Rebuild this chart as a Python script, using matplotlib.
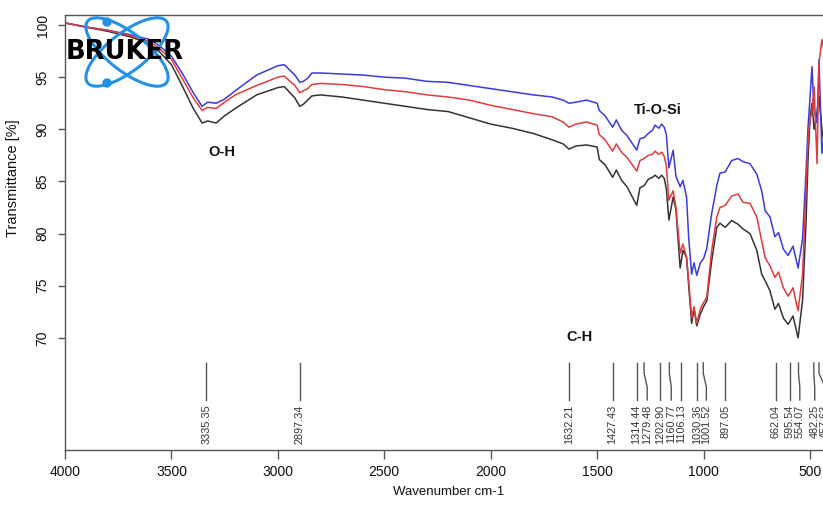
import matplotlib
matplotlib.use('Agg')
import matplotlib.pyplot as plt
from matplotlib.patches import Ellipse, Circle

plt.rcParams['font.family'] = ['Liberation Sans', 'DejaVu Sans']

# ---------------- data ----------------
wn = [4000, 3900, 3800, 3700, 3600, 3550, 3500, 3450, 3400, 3356,
      3330, 3290, 3250, 3200, 3100, 3000, 2970, 2920, 2897, 2880,
      2860, 2840, 2800, 2700, 2600, 2500, 2400, 2300, 2200, 2100,
      2000, 1900, 1800, 1712, 1660, 1632, 1600, 1550, 1500, 1490,
      1463, 1427, 1410, 1385, 1360, 1314, 1299, 1279, 1260, 1240,
      1228, 1210, 1197, 1185, 1175, 1163, 1143, 1130, 1110, 1097,
      1080, 1070, 1056, 1045, 1032, 1015, 1000, 985, 962, 938,
      923, 899, 868, 838, 815, 782, 750, 727, 711, 688,
      665, 648, 625, 603, 580, 556, 535, 519, 509, 500,
      491, 481, 467, 458, 444, 430, 410]

blue = [100.2, 99.8, 99.5, 99.1, 98.6, 97.9, 97.0, 95.4, 93.6, 92.2,
        92.6, 92.5, 92.9, 93.7, 95.2, 96.1, 96.2, 95.2, 94.5, 94.6,
        94.9, 95.4, 95.4, 95.3, 95.2, 95.0, 94.9, 94.6, 94.5, 94.2,
        93.9, 93.6, 93.3, 93.1, 92.8, 92.5, 92.6, 92.8, 92.5, 91.8,
        91.3, 90.2, 90.9, 89.9, 89.4, 88.0, 89.1, 89.2, 89.6, 89.9,
        90.4, 90.1, 90.5, 90.2, 89.5, 86.3, 88.0, 85.5, 84.5, 85.1,
        83.5, 79.6, 76.1, 77.2, 76.0, 77.2, 77.6, 78.6, 81.9, 84.6,
        85.8, 85.9, 87.0, 87.2, 86.9, 86.7, 85.7, 84.1, 82.2, 81.6,
        79.7, 80.1, 78.5, 77.9, 78.8, 76.7, 79.5, 85.8, 90.3, 93.0,
        96.0, 91.9, 90.6, 96.7, 87.7, 90.0, 89.0]

red = [100.2, 99.8, 99.5, 99.0, 98.4, 97.6, 96.7, 94.9, 93.1, 91.8,
       92.1, 92.0, 92.6, 93.3, 94.2, 95.0, 95.1, 94.2, 93.5, 93.7,
       93.9, 94.3, 94.4, 94.3, 94.1, 93.8, 93.6, 93.3, 93.1, 92.8,
       92.3, 91.9, 91.5, 91.2, 90.7, 90.2, 90.5, 90.7, 90.4, 89.5,
       89.0, 87.9, 88.6, 87.8, 87.3, 86.0, 87.0, 87.2, 87.5, 87.6,
       87.9, 87.6, 87.8, 87.4, 86.5, 83.2, 84.1, 82.5, 78.1, 79.0,
       77.7, 75.5, 71.9, 73.0, 71.4, 72.8, 73.4, 73.9, 78.4, 81.6,
       82.5, 82.7, 83.6, 83.8, 83.0, 82.9, 81.6, 79.3, 77.7, 76.9,
       75.8, 76.3, 74.8, 74.0, 74.8, 72.6, 76.1, 84.1, 89.0, 91.0,
       91.6, 94.1, 86.7, 96.3, 98.6, 97.0, 95.0]

black = [100.2, 99.8, 99.4, 98.9, 98.2, 97.3, 96.2, 94.2, 92.1, 90.6,
         90.8, 90.6, 91.3, 92.0, 93.3, 94.0, 94.1, 93.0, 92.2, 92.4,
         92.8, 93.2, 93.3, 93.1, 92.8, 92.5, 92.2, 91.9, 91.7, 91.1,
         90.5, 90.1, 89.6, 89.0, 88.6, 88.1, 88.4, 88.5, 88.3, 87.1,
         86.6, 85.4, 86.1, 85.1, 84.5, 82.7, 84.4, 84.6, 85.2, 85.4,
         85.6, 85.3, 85.6, 85.3, 84.3, 81.3, 83.5, 82.3, 76.7, 78.4,
         77.7, 75.0, 71.4, 72.8, 71.15, 72.3, 73.0, 73.55, 77.4, 80.6,
         81.0, 80.6, 81.25, 80.9, 80.45, 80.0, 78.4, 76.1, 75.5, 74.5,
         72.75, 73.3, 71.9, 71.3, 72.1, 70.0, 73.6, 80.9, 87.3, 91.0,
         92.5, 90.0, 91.6, 93.2, 90.0, 88.0, 87.0]

peaks = [3335.35, 2897.34, 1632.21, 1427.43, 1314.44, 1279.48, 1202.90,
         1160.77, 1106.13, 1030.36, 1001.52, 897.05, 662.04, 595.54,
         554.07, 482.25, 457.63]
# where each peak label is placed (wavenumber position of the label)
label_pos = [3335.35, 2897.34, 1632.21, 1427.43, 1314.44, 1265, 1202.90,
             1152, 1106.13, 1030.36, 987, 897.05, 662.04, 595.54,
             548, 478, 430]

xticks = [4000, 3500, 3000, 2500, 2000, 1500, 1000, 500]
yticks = [70, 75, 80, 85, 90, 95, 100]

annotations = [("O-H", 3262, 87.8), ("Ti-O-Si", 1214, 91.85), ("C-H", 1583, 70.1)]

# ---------------- figure ----------------
W, H = 823, 505
fig = plt.figure(figsize=(W / 100, H / 100), dpi=100)
ax = fig.add_axes([65 / W, 55 / H, 766.3 / W, 435 / H])

ax.plot(wn, black, color='#333333', lw=1.1, zorder=3)
ax.plot(wn, blue, color='#3a3ae0', lw=1.1, zorder=3)
ax.plot(wn, red, color='#e23b3b', lw=1.1, zorder=3)

ax.set_xlim(4000, 400)
ax.set_ylim(59.25, 100.96)
ax.set_xticks(xticks)
ax.set_yticks(yticks)

for s in ['left', 'bottom', 'top', 'right']:
    ax.spines[s].set_color('#555555')
    ax.spines[s].set_linewidth(1.0)

ax.tick_params(axis='x', length=6.5, width=1, color='#555555', pad=4,
               labelsize=10, labelcolor='#111111')
ax.tick_params(axis='y', length=5, width=1, color='#555555', pad=6,
               labelsize=10, labelcolor='#111111')
for lab in ax.get_yticklabels():
    lab.set_rotation(90)
    lab.set_va('center')

ax.set_xlabel('Wavenumber cm-1', fontsize=9.5, color='#111111', labelpad=5)
ax.set_ylabel('Transmittance [%]', fontsize=10.5, color='#111111')
ax.yaxis.set_label_coords(-0.0587, 0.625)

# peak markers
for p, lp in zip(peaks, label_pos):
    ax.plot([p, p, lp, lp], [67.6, 66.6, 65.3, 64.05], color='#555555',
            lw=1.0, zorder=2, clip_on=False)
    ax.text(lp, 63.6, f'{p:.2f}', rotation=90, ha='center', va='top',
            fontsize=7.8, color='#333333', clip_on=True)

for txt, x, y in annotations:
    ax.text(x, y, txt, ha='center', va='center', fontsize=10.5,
            fontweight='bold', color='#111111')

# ---------------- logo overlay (pixel coordinates) ----------------
lax = fig.add_axes([0, 0, 1, 1], zorder=5)
lax.set_xlim(0, W)
lax.set_ylim(H, 0)
lax.axis('off')
lax.patch.set_alpha(0)
logo_blue = '#2490e8'
for ang in (38, -38):
    lax.add_patch(Ellipse((127, 52), 100, 38, angle=ang, fill=False,
                          ec=logo_blue, lw=2.2))
lax.add_patch(Circle((107, 22), 4, color=logo_blue))
lax.add_patch(Circle((107, 83), 4, color=logo_blue))
lax.text(125, 52, 'BRUKER', ha='center', va='center', fontsize=18.5,
         fontweight='bold', family='DejaVu Sans', color='black')

fig.savefig('out.png', dpi=100)
